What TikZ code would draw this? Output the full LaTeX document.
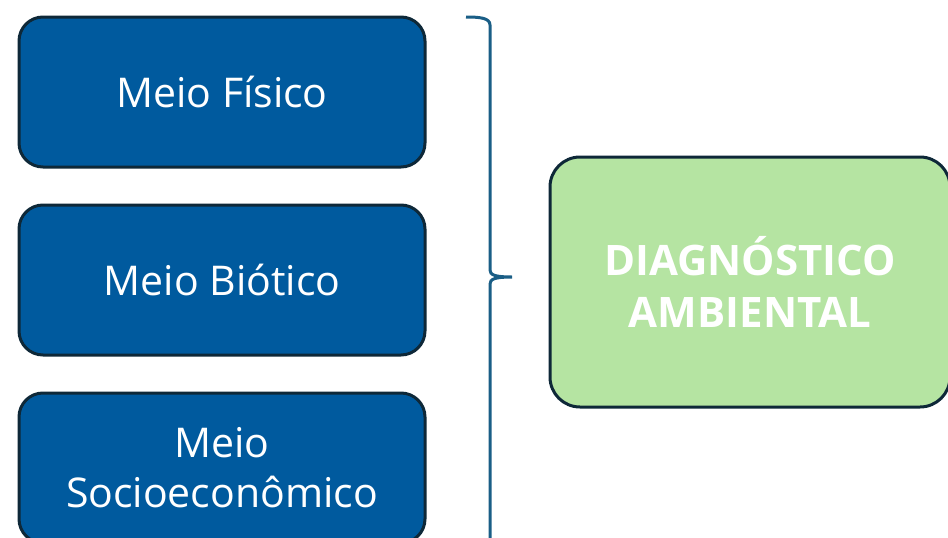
\documentclass[tikz,border=0pt]{standalone}
\usepackage{fontspec}
\setmainfont{Open Sans}
\definecolor{meioblue}{RGB}{0,90,158}
\definecolor{boxedge}{RGB}{14,40,56}
\definecolor{diaggreen}{RGB}{181,228,162}
\definecolor{bracecol}{RGB}{26,94,134}

\begin{document}
\begin{tikzpicture}[x=1pt, y=-1pt,
    meio/.style={rectangle, rounded corners=24pt, draw=boxedge, line width=3pt,
        fill=meioblue, text=white, minimum width=406pt, minimum height=150pt,
        align=center, font=\fontsize{41}{50}\selectfont},
    diagbox/.style={rectangle, rounded corners=30pt, draw=boxedge, line width=3pt,
        fill=diaggreen, text=white, minimum width=400pt, minimum height=250pt,
        align=center, font=\fontsize{42}{52}\selectfont\bfseries}]
    \useasboundingbox (0,0) rectangle (948,538);
    \clip (0,0) rectangle (948,538);
    \node[meio] (fisico) at (222,92) {Meio Físico};
    \node[meio] (biotico) at (222,280) {Meio Biótico};
    \node[meio] (socio) at (222,468) {Meio\\Socioeconômico};
    \node[diagbox] (diag) at (750,282) {DIAGNÓSTICO\\AMBIENTAL};
    % chave
    \coordinate (bracetop) at (466,17);
    \coordinate (bracetip) at (512,277);
    \coordinate (bracebot) at (490,545);
    \draw[bracecol, line width=3pt]
        (bracetop) .. controls (480,17) and (490,18) .. (490,25)
        -- (490,270) .. controls (490,275) and (495,277) .. (bracetip)
        (bracetip) .. controls (495,277) and (490,279) .. (490,284)
        -- (bracebot);
\end{tikzpicture}
\end{document}
